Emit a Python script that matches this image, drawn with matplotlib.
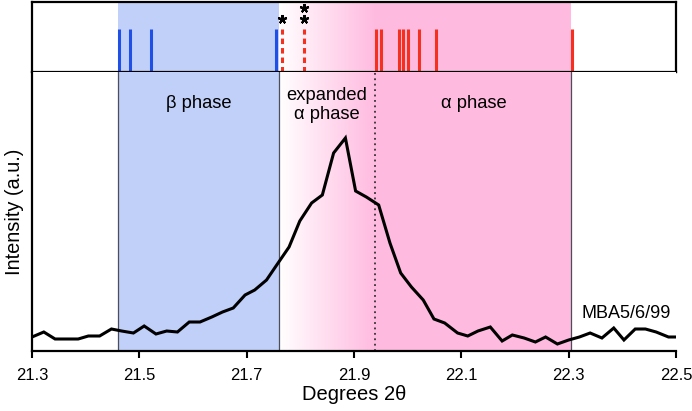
"""
XRD peak profile with beta / expanded alpha / alpha phase regions
"""

import numpy as np
import matplotlib.pyplot as plt
from matplotlib.colors import LinearSegmentedColormap

plt.rcParams['font.family'] = ['Liberation Sans', 'DejaVu Sans']

# ── data ────────────────────────────────────────────────────────────────────
two_theta = [21.300, 21.322, 21.343, 21.365, 21.386, 21.405, 21.426, 21.448,
             21.467, 21.489, 21.509, 21.531, 21.551, 21.571, 21.593, 21.613,
             21.635, 21.655, 21.675, 21.697, 21.715, 21.737, 21.756, 21.779,
             21.799, 21.821, 21.841, 21.862, 21.884, 21.903, 21.923, 21.946,
             21.967, 21.987, 22.007, 22.029, 22.049, 22.069, 22.093, 22.112,
             22.131, 22.154, 22.176, 22.195, 22.217, 22.238, 22.257, 22.279,
             22.300, 22.320, 22.340, 22.362, 22.384, 22.403, 22.424, 22.443,
             22.463, 22.486, 22.500]
intensity = [14, 19, 12, 12, 12, 15, 15, 22,
             20, 18, 25, 17, 20, 19, 29, 29,
             34, 39, 43, 56, 61, 71, 86, 104,
             130, 148, 156, 198, 213, 160, 154, 146,
             108, 78, 64, 51, 32, 28, 18, 15,
             20, 24, 10, 16, 13, 9, 14, 7,
             11, 14, 18, 13, 23, 11, 22, 22,
             19, 14, 14]

beta_peaks     = [21.463, 21.483, 21.522, 21.755]
expanded_peaks = [21.766, 21.806]
star_counts    = [1, 2]
alpha_peaks    = [21.941, 21.950, 21.984, 21.991, 22.001, 22.021, 22.052, 22.307]

beta_range     = (21.46, 21.76)
expanded_range = (21.76, 21.94)
alpha_range    = (21.94, 22.305)

xticks = [21.3, 21.5, 21.7, 21.9, 22.1, 22.3, 22.5]

BLUE_FILL = "#c0d0f9"
PINK_FILL = "#ffbae0"
BLUE_TICK = "#1f4fe6"
RED_TICK  = "#f5301e"

W, H = 692, 411
fig = plt.figure(figsize=(W / 100, H / 100), dpi=100)
ax_top = fig.add_axes([32 / W, 1 - 72 / H, 644 / W, 70 / H])
ax = fig.add_axes([32 / W, 1 - 351 / H, 644 / W, 279 / H])

pink_cmap = LinearSegmentedColormap.from_list("wp", ["#ffffff", PINK_FILL])
grad = np.linspace(0, 1, 256).reshape(1, -1)

for a, ytop in [(ax_top, 1.0), (ax, 279)]:
    a.axvspan(*beta_range, color=BLUE_FILL, lw=0, zorder=0)
    a.axvspan(*alpha_range, color=PINK_FILL, lw=0, zorder=0)
    a.imshow(grad, cmap=pink_cmap, aspect="auto", zorder=0,
             extent=[expanded_range[0], expanded_range[1], 0, ytop])
    a.set_xlim(21.3, 22.5)
    a.set_ylim(0, ytop)

# ── top panel: reflection positions ─────────────────────────────────────────
ax_top.vlines(beta_peaks, 0, 0.61, color=BLUE_TICK, lw=2.2)
ax_top.vlines(alpha_peaks, 0, 0.61, color=RED_TICK, lw=2.2)
ax_top.vlines(expanded_peaks, 0, 0.61, color=RED_TICK, lw=2.2,
              linestyles=(0, (1.8, 1.3)))
for xp, n in zip(expanded_peaks, star_counts):
    for i in range(n):
        ax_top.plot(xp, 0.76 + 0.155 * i, marker=(5, 2, 0), ms=6.5,
                    color="black", mew=1.5)
ax_top.set_xticks([]); ax_top.set_yticks([])
for s in ax_top.spines.values():
    s.set_linewidth(1.6)

# ── main panel: diffraction profile ─────────────────────────────────────────
for xb in [beta_range[0], beta_range[1], alpha_range[1]]:
    ax.axvline(xb, color="#4a4f5a", lw=0.9, zorder=1)
ax.axvline(alpha_range[0], color="#333333", lw=1.3, ls=(0, (1, 2)), zorder=1)

ax.plot(two_theta, intensity, color="black", lw=2.2, zorder=3,
        solid_joinstyle="miter")

ax.text(np.mean(beta_range), 248, "β phase", ha="center", va="center", fontsize=13.2)
ax.text(np.mean(expanded_range), 246, "expanded\nα phase", ha="center",
        va="center", fontsize=13.2, linespacing=1.15)
ax.text(np.mean(alpha_range), 248, "α phase", ha="center", va="center", fontsize=13.2)
ax.text(22.49, 38, "MBA5/6/99", ha="right", va="center", fontsize=13)

ax.set_xticks(xticks)
ax.set_xticklabels([f"{t:.1f}" for t in xticks], fontsize=12)
ax.set_yticks([])
ax.tick_params(axis="x", direction="out", length=5, width=1.5, pad=7)
ax.spines[["top", "right"]].set_visible(False)
ax.spines["left"].set_linewidth(1.6)
ax.spines["bottom"].set_linewidth(1.6)
ax.set_xlabel("Degrees 2θ", fontsize=14.5, labelpad=2)
ax.set_ylabel("Intensity (a.u.)", fontsize=14.4, labelpad=6)

plt.savefig("out.png", dpi=100)
plt.close()
